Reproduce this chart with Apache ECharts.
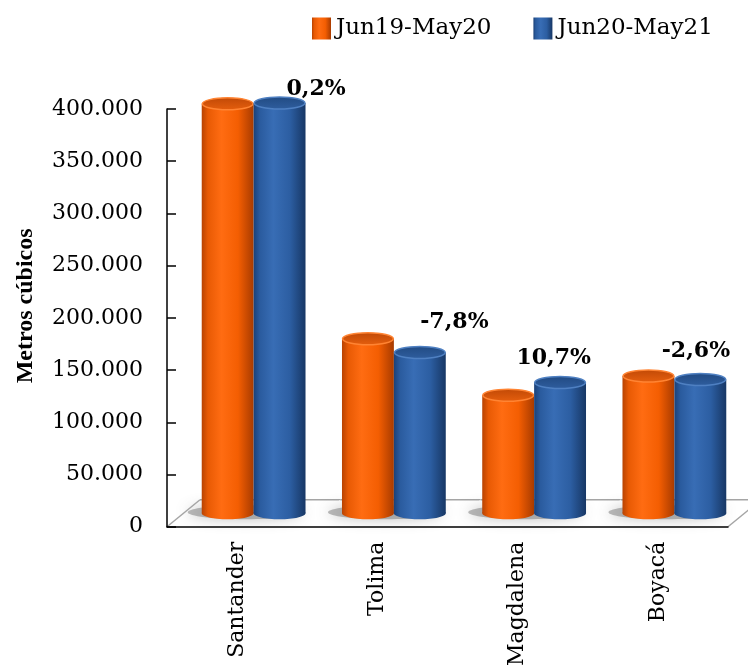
<!DOCTYPE html>
<html>
<head>
<meta charset="utf-8">
<script src="https://cdn.jsdelivr.net/npm/echarts@6/dist/echarts.min.js"></script>
<style>
  html, body { margin: 0; padding: 0; background: #fff; }
  #chart { width: 748px; height: 669px; }
</style>
</head>
<body>
<div id="chart"></div>
<script>
// Volumes in cubic metres per department, two twelve-month periods
const categories = ['Santander', 'Tolima', 'Magdalena', 'Boyacá'];
const seriesNames = ['Jun19-May20', 'Jun20-May21'];
const volumes1920 = [392000, 167000, 113000, 131500];
const volumes2021 = [392800, 154000, 125100, 128100];
const yAxisMin = 0;
const yAxisMax = 400000;
const yAxisStep = 50000;

// ---- styling ----
const SERIF = '"DejaVu Serif", "Liberation Serif", serif';
const DEPTH_X = 33;   // floor depth, horizontal shift
const DEPTH_Y = 27;   // floor depth, vertical shift
const BAR_SHARE = 0.37;
const CAP_RY = 6;
// hand-placed nudges for the change notes [dx, dy]
const noteNudge = [[79, -8], [77, -11], [36, -18], [38, -19]];

const palettes = [
  {
    body: [
      { offset: 0, color: '#b84302' },
      { offset: 0.12, color: '#e85a04' },
      { offset: 0.38, color: '#ff6c12' },
      { offset: 0.7, color: '#f45e02' },
      { offset: 1, color: '#a83b00' }
    ],
    cap: [
      { offset: 0, color: '#c04906' },
      { offset: 1, color: '#e65f0e' }
    ],
    rim: '#ff8433'
  },
  {
    body: [
      { offset: 0, color: '#1b4178' },
      { offset: 0.12, color: '#2a5b9e' },
      { offset: 0.38, color: '#386db5' },
      { offset: 0.7, color: '#2c5ea2' },
      { offset: 1, color: '#173765' }
    ],
    cap: [
      { offset: 0, color: '#214a82' },
      { offset: 1, color: '#2f5e9f' }
    ],
    rim: '#4f80c2'
  }
];

function linear(stops, vertical) {
  return { type: 'linear', x: 0, y: 0, x2: vertical ? 0 : 1, y2: vertical ? 1 : 0, colorStops: stops };
}

function thousands(v) {
  return String(v).replace(/\B(?=(\d{3})+(?!\d))/g, '.');
}

function changeText(a, b) {
  return ((b / a - 1) * 100).toFixed(1).replace('.', ',') + '%';
}

// Floor slab under each category, with soft base shadows
function renderFloor(params, api) {
  const i = api.value(0);
  const base = api.coord([i, 0]);
  const band = api.size([1, 0])[0];
  const L = base[0] - band / 2, R = base[0] + band / 2, y0 = base[1];
  const bw = band * BAR_SHARE;
  const pairX = base[0] + DEPTH_X / 2;
  const yB = y0 - DEPTH_Y / 2;
  const grey = '#a5a5a5';
  const children = [
    {
      type: 'polygon',
      shape: { points: [[L, y0], [L + DEPTH_X, y0 - DEPTH_Y], [R + DEPTH_X, y0 - DEPTH_Y], [R, y0]] },
      style: { fill: '#ffffff' }
    },
    {
      type: 'line',
      shape: { x1: L + DEPTH_X, y1: y0 - DEPTH_Y, x2: R + DEPTH_X, y2: y0 - DEPTH_Y },
      style: { stroke: grey, lineWidth: 1.5 }
    },
    {
      type: 'ellipse',
      shape: { cx: pairX - 8, cy: yB - 1, rx: bw + 6, ry: 7 },
      style: { fill: 'rgba(120,120,120,0.5)', shadowBlur: 14, shadowColor: 'rgba(80,80,80,0.7)' }
    }
  ];
  if (i === 0) {
    children.push({
      type: 'line',
      shape: { x1: L, y1: y0, x2: L + DEPTH_X, y2: y0 - DEPTH_Y },
      style: { stroke: grey, lineWidth: 1.5 }
    });
  }
  if (i === categories.length - 1) {
    children.push({
      type: 'line',
      shape: { x1: R, y1: y0, x2: R + DEPTH_X, y2: y0 - DEPTH_Y },
      style: { stroke: grey, lineWidth: 1.5 }
    });
  }
  return { type: 'group', children: children };
}

// Shaded cylinder standing on the floor; side = -1 left, +1 right
function cylinder(side, palette) {
  return function (params, api) {
    const i = api.value(0), v = api.value(1);
    const base = api.coord([i, 0]);
    const top = api.coord([i, v]);
    const band = api.size([1, 0])[0];
    const bw = band * BAR_SHARE;
    const rx = bw / 2;
    const cx = base[0] + DEPTH_X / 2 + side * rx;
    const yB = base[1] - DEPTH_Y / 2;
    const yT = top[1] - DEPTH_Y / 2;
    const body = linear(palette.body, false);
    return {
      type: 'group',
      children: [
        { type: 'rect', shape: { x: cx - rx, y: yT, width: bw, height: yB - yT }, style: { fill: body } },
        { type: 'ellipse', shape: { cx: cx, cy: yB, rx: rx, ry: CAP_RY }, style: { fill: body } },
        {
          type: 'ellipse',
          shape: { cx: cx, cy: yT, rx: rx - 0.6, ry: CAP_RY },
          style: { fill: linear(palette.cap, true), stroke: palette.rim, lineWidth: 1.5 }
        }
      ]
    };
  };
}

// Percentage change note above each pair
function renderNote(params, api) {
  const i = api.value(0);
  const a = api.value(1), b = api.value(2);
  const base = api.coord([i, 0]);
  const topY = api.coord([i, Math.max(a, b)])[1] - DEPTH_Y / 2 - CAP_RY;
  const n = noteNudge[i];
  return {
    type: 'text',
    x: base[0] + n[0],
    y: topY + n[1],
    style: {
      text: changeText(a, b),
      fill: '#000',
      font: 'bold 22px ' + SERIF,
      align: 'center',
      verticalAlign: 'middle'
    }
  };
}

const chart = echarts.init(document.getElementById('chart'));

chart.setOption({
  animation: false,
  backgroundColor: '#ffffff',
  grid: { left: 167, right: 20, top: 109, bottom: 139, containLabel: false },
  legend: {
    top: 12,
    left: 307,
    itemWidth: 19,
    itemHeight: 22,
    itemGap: 42,
    itemStyle: { borderWidth: 0 },
    icon: 'rect',
    textStyle: { fontFamily: SERIF, fontSize: 23, color: '#000' },
    data: seriesNames.map(function (name, k) {
      return { name: name, itemStyle: { color: linear(palettes[k].body, false) } };
    })
  },
  xAxis: {
    type: 'category',
    data: categories,
    boundaryGap: true,
    z: 5,
    axisLine: { lineStyle: { color: '#000', width: 1.5 } },
    axisTick: { inside: true, length: 8, lineStyle: { color: '#000', width: 1.5 } },
    axisLabel: { rotate: 90, margin: 15, fontFamily: SERIF, fontSize: 22, color: '#000' },
    splitLine: { show: false }
  },
  yAxis: {
    type: 'value',
    min: yAxisMin,
    max: yAxisMax,
    interval: yAxisStep,
    z: 5,
    name: 'Metros cúbicos',
    nameLocation: 'middle',
    nameRotate: 90,
    nameGap: 129,
    nameTextStyle: {
      fontFamily: '"Liberation Serif", serif',
      fontWeight: 'bold',
      fontSize: 24,
      color: '#000',
      padding: [0, 0, 0, 24]
    },
    axisLine: { show: true, lineStyle: { color: '#000', width: 1.5 } },
    axisTick: { show: true, inside: true, length: 9, lineStyle: { color: '#000', width: 1.5 } },
    axisLabel: { margin: 24, fontFamily: SERIF, fontSize: 22, color: '#000', formatter: thousands },
    splitLine: { show: false }
  },
  series: [
    {
      type: 'custom',
      name: 'floor',
      z: 1,
      renderItem: renderFloor,
      encode: { x: 0, y: 1 },
      data: categories.map(function (c, i) { return [i, 0]; }),
      silent: true
    },
    {
      type: 'custom',
      name: seriesNames[0],
      z: 2,
      renderItem: cylinder(-1, palettes[0]),
      itemStyle: { color: '#f26412' },
      encode: { x: 0, y: 1 },
      data: volumes1920.map(function (v, i) { return [i, v]; })
    },
    {
      type: 'custom',
      name: seriesNames[1],
      z: 3,
      renderItem: cylinder(1, palettes[1]),
      itemStyle: { color: '#2e62a8' },
      encode: { x: 0, y: 1 },
      data: volumes2021.map(function (v, i) { return [i, v]; })
    },
    {
      type: 'custom',
      name: 'change',
      z: 4,
      renderItem: renderNote,
      encode: { x: 0, y: 1 },
      data: categories.map(function (c, i) { return [i, volumes1920[i], volumes2021[i]]; }),
      silent: true
    }
  ]
});
</script>
</body>
</html>
